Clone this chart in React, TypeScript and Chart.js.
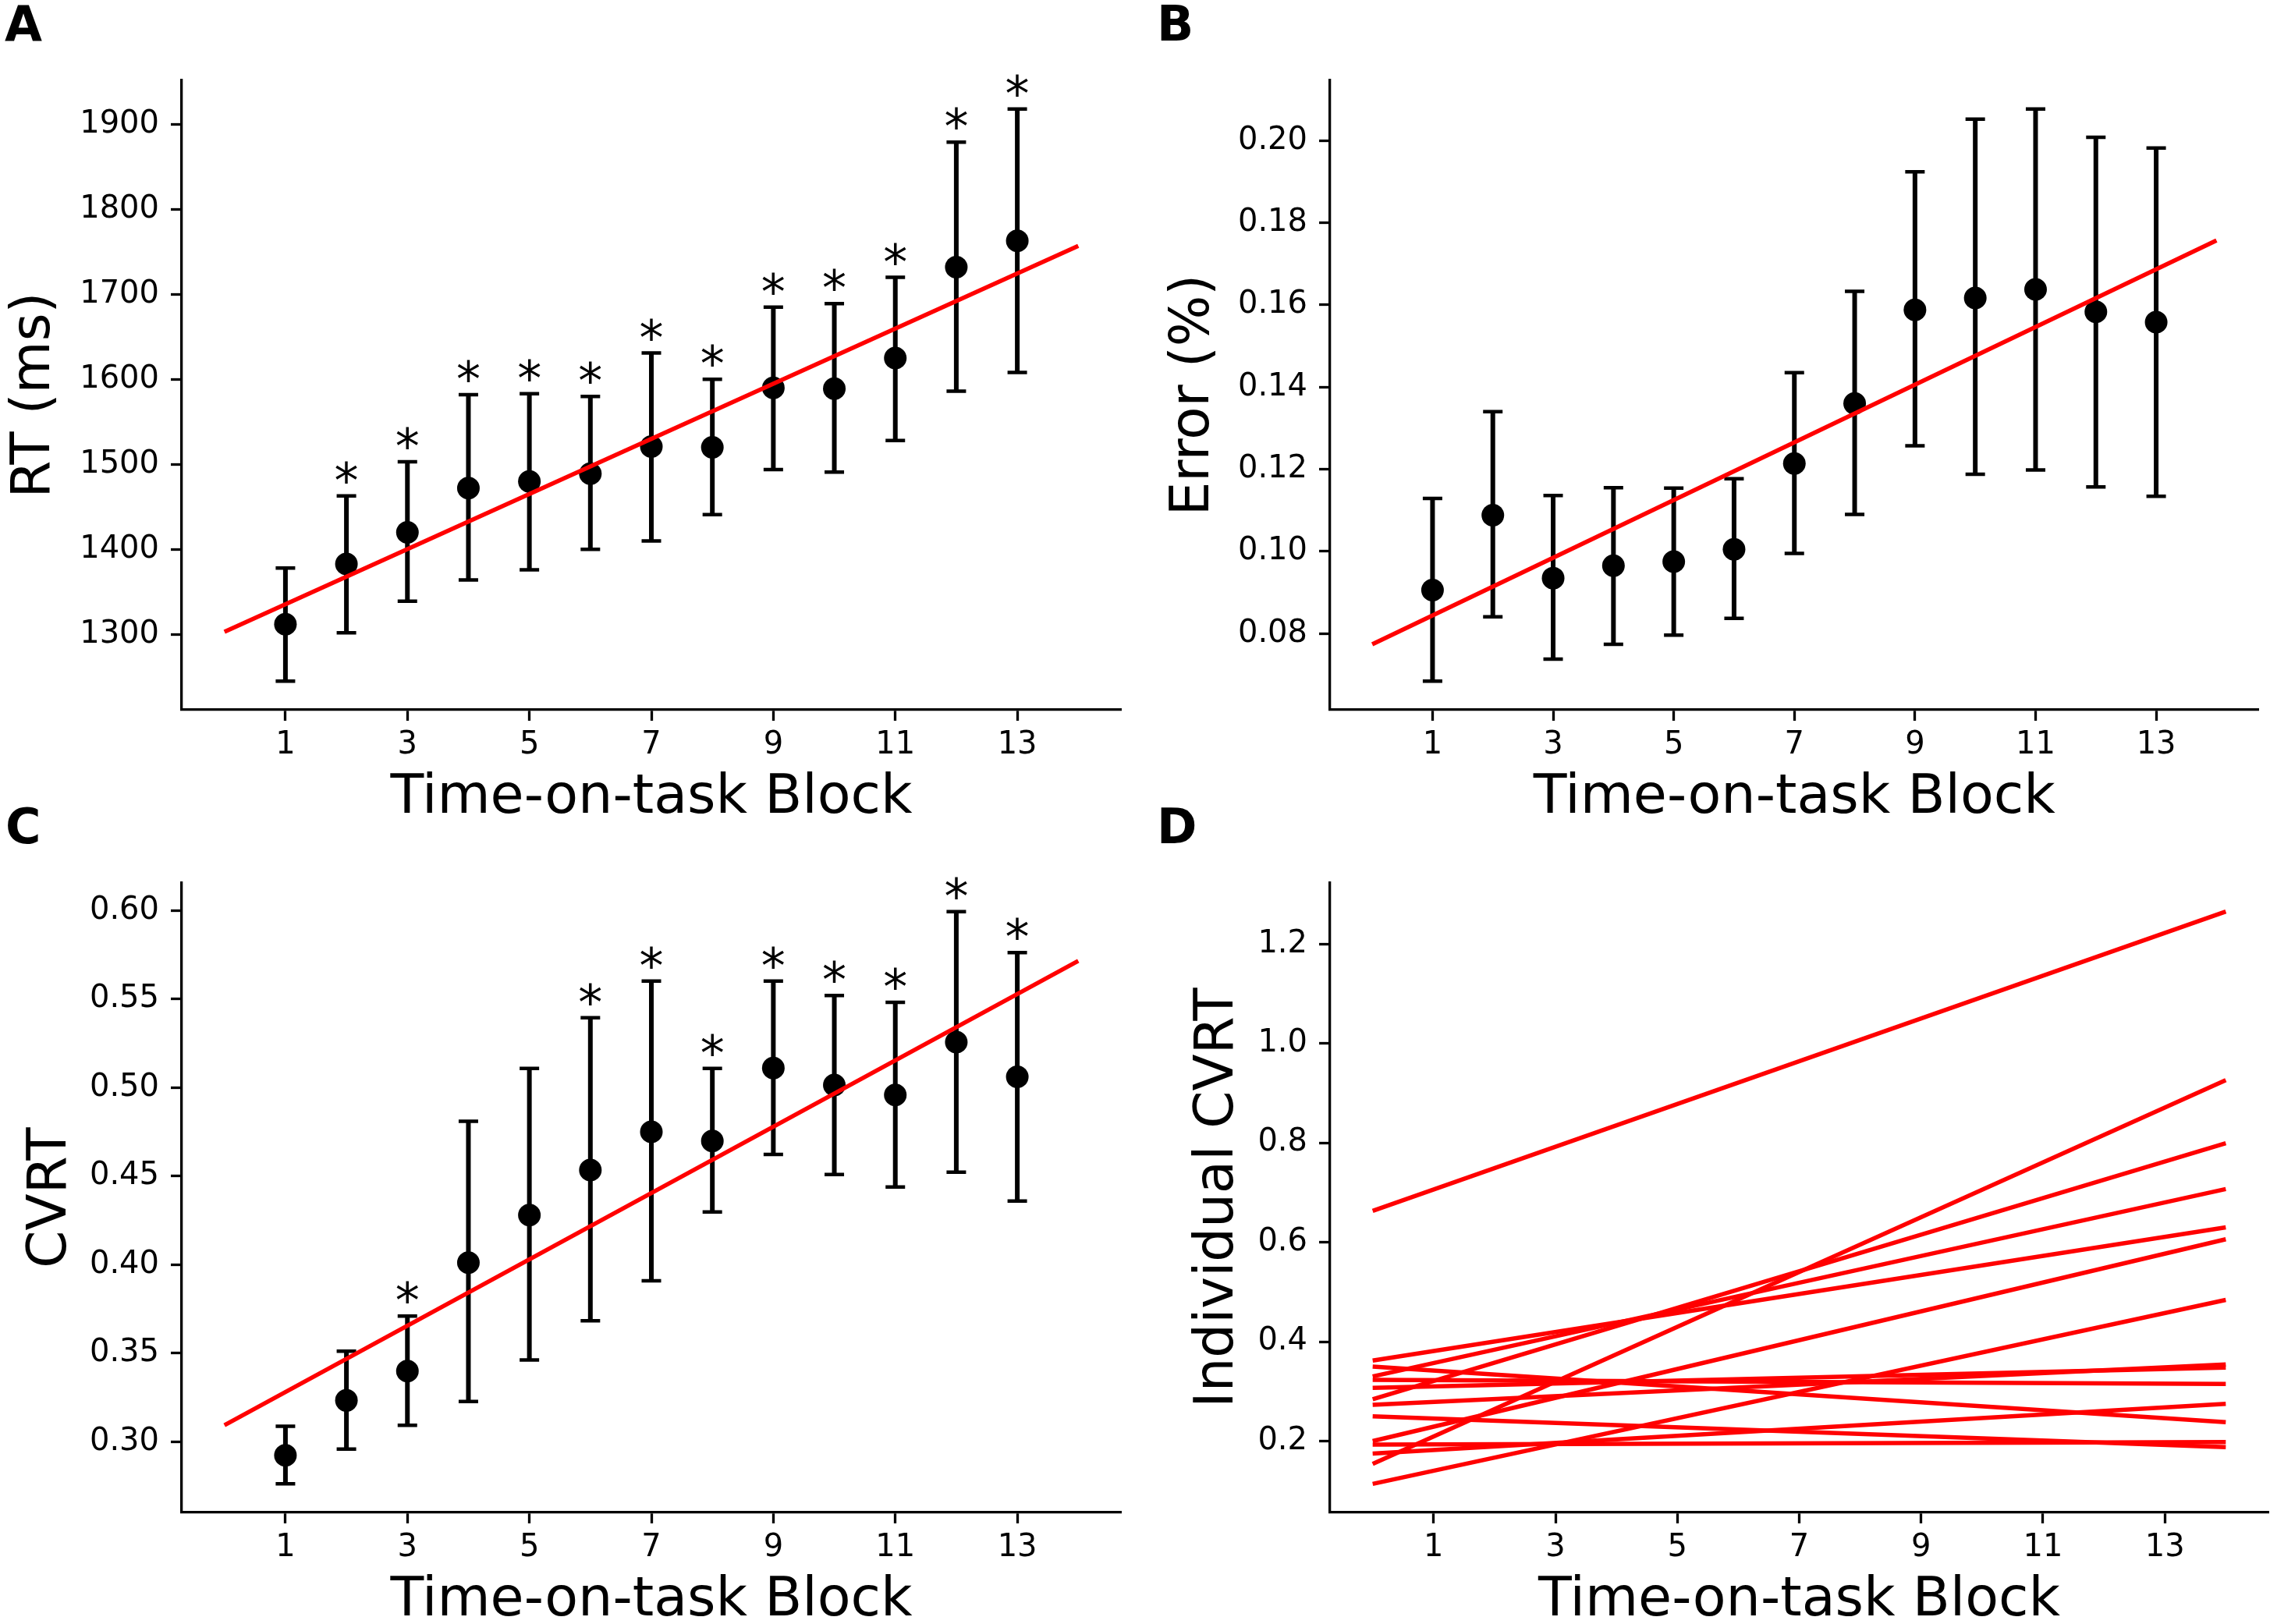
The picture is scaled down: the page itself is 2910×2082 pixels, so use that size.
import React, { useEffect, useRef } from 'react';
import { Chart, registerables } from 'chart.js';

Chart.register(...registerables);
Chart.defaults.font.family = 'DejaVu Sans';
Chart.defaults.color = '#000';

// ---- data ----
const blocks = [1, 2, 3, 4, 5, 6, 7, 8, 9, 10, 11, 12, 13];
const xTicks = [1, 3, 5, 7, 9, 11, 13];
const fitX = [0, 14];

// A: reaction time
const rtMean = [1312, 1383, 1420, 1472, 1480, 1489, 1521, 1520, 1590, 1589, 1625, 1732, 1763];
const rtLow = [1245, 1302, 1339, 1364, 1376, 1400, 1410, 1441, 1494, 1491, 1528, 1586, 1608];
const rtHigh = [1378, 1463, 1503, 1582, 1583, 1580, 1631, 1600, 1685, 1689, 1720, 1879, 1918];
const rtStars = [0, 1, 1, 1, 1, 1, 1, 1, 1, 1, 1, 1, 1];
const rtFit = [1303, 1757];
const rtTicks = [1300, 1400, 1500, 1600, 1700, 1800, 1900];

// B: error
const errMean = [0.0906, 0.1088, 0.0935, 0.0965, 0.0975, 0.1005, 0.1214, 0.136, 0.1588, 0.1617, 0.1638, 0.1583, 0.1558];
const errLow = [0.0684, 0.0841, 0.0738, 0.0774, 0.0796, 0.0837, 0.0995, 0.109, 0.1257, 0.1188, 0.1198, 0.1157, 0.1134];
const errHigh = [0.1129, 0.134, 0.1136, 0.1155, 0.1154, 0.1177, 0.1435, 0.1633, 0.1924, 0.2052, 0.2077, 0.2008, 0.1982];
const errStars = [0, 0, 0, 0, 0, 0, 0, 0, 0, 0, 0, 0, 0];
const errFit = [0.0774, 0.1757];
const errTicks = [0.08, 0.1, 0.12, 0.14, 0.16, 0.18, 0.2];

// C: CVRT
const cvMean = [0.2924, 0.3234, 0.34, 0.4012, 0.4281, 0.4535, 0.4751, 0.4699, 0.5111, 0.5015, 0.4959, 0.5257, 0.5061];
const cvLow = [0.2763, 0.2959, 0.3094, 0.3228, 0.3462, 0.3684, 0.3909, 0.4298, 0.4623, 0.4509, 0.4439, 0.4523, 0.436];
const cvHigh = [0.3088, 0.3512, 0.371, 0.481, 0.5108, 0.5395, 0.5602, 0.5108, 0.5602, 0.552, 0.5482, 0.5994, 0.5763];
const cvStars = [0, 0, 1, 0, 0, 1, 1, 1, 1, 1, 1, 1, 1];
const cvFit = [0.3094, 0.5716];
const cvTicks = [0.3, 0.35, 0.4, 0.45, 0.5, 0.55, 0.6];

// D: individual CVRT fits (value at block 0 and block 14)
const indStart = [0.663, 0.154, 0.284, 0.33, 0.362, 0.2, 0.114, 0.273, 0.307, 0.323, 0.175, 0.35, 0.193, 0.25];
const indEnd = [1.265, 0.926, 0.799, 0.707, 0.63, 0.606, 0.484, 0.354, 0.348, 0.315, 0.275, 0.238, 0.198, 0.188];
const indTicks = [0.2, 0.4, 0.6, 0.8, 1.0, 1.2];

const CANVAS_W = 1455;
const CANVAS_H = 1053;

// error bars and significance stars, placed with the chart's own scales
const errorBarPlugin = {
  id: 'errorBars',
  beforeDatasetsDraw(chart: any, _args: any, opts: any) {
    if (!opts || !opts.low) return;
    const { ctx } = chart;
    const xs = chart.scales.x;
    const ys = chart.scales.y;
    ctx.save();
    ctx.strokeStyle = '#000';
    opts.low.forEach((lo: number, i: number) => {
      const px = xs.getPixelForValue(opts.x[i]);
      const pLo = ys.getPixelForValue(lo);
      const pHi = ys.getPixelForValue(opts.high[i]);
      ctx.lineWidth = 6;
      ctx.beginPath();
      ctx.moveTo(px, pLo);
      ctx.lineTo(px, pHi);
      ctx.stroke();
      ctx.lineWidth = 4.5;
      ctx.beginPath();
      ctx.moveTo(px - 12.5, pLo);
      ctx.lineTo(px + 12.5, pLo);
      ctx.moveTo(px - 12.5, pHi);
      ctx.lineTo(px + 12.5, pHi);
      ctx.stroke();
    });
    ctx.restore();
  },
  afterDatasetsDraw(chart: any, _args: any, opts: any) {
    if (!opts || !opts.stars) return;
    const { ctx } = chart;
    const xs = chart.scales.x;
    const ys = chart.scales.y;
    ctx.save();
    ctx.fillStyle = '#000';
    ctx.font = '62px "DejaVu Sans"';
    ctx.textAlign = 'center';
    ctx.textBaseline = 'alphabetic';
    opts.stars.forEach((s: number, i: number) => {
      if (!s) return;
      const px = xs.getPixelForValue(opts.x[i]);
      const pHi = ys.getPixelForValue(opts.high[i]);
      ctx.fillText('*', px, pHi + 2);
    });
    ctx.restore();
  },
};

const panelLabelPlugin = {
  id: 'panelLabel',
  afterDraw(chart: any, _args: any, opts: any) {
    if (!opts || !opts.text) return;
    const { ctx } = chart;
    ctx.save();
    ctx.fillStyle = '#000';
    ctx.font = 'bold 62px "DejaVu Sans"';
    ctx.textAlign = 'left';
    ctx.textBaseline = 'alphabetic';
    ctx.fillText(opts.text, opts.x, opts.y);
    ctx.restore();
  },
};

function paddedRange(lo: number[], hi: number[]) {
  const mn = Math.min(...lo);
  const mx = Math.max(...hi);
  const m = (mx - mn) * 0.05;
  return [mn - m, mx + m];
}

interface PanelSpec {
  letter: string;
  letterX: number;
  left: number;
  right: number;
  yTitle: string;
  yTitlePad: number;
  yTicks: number[];
  decimals: number;
  yMin: number;
  yMax: number;
  datasets: any[];
  errors?: { x: number[]; low: number[]; high: number[]; stars: number[] };
}

const Panel: React.FC<{ spec: PanelSpec; top: number; leftPos: number }> = ({ spec, top, leftPos }) => {
  const canvasRef = useRef<HTMLCanvasElement>(null);
  const chartRef = useRef<Chart | null>(null);

  useEffect(() => {
    if (!canvasRef.current) return;
    const ctx = canvasRef.current.getContext('2d');
    if (!ctx) return;
    if (chartRef.current) chartRef.current.destroy();

    chartRef.current = new Chart(ctx, {
      type: 'scatter',
      data: { datasets: spec.datasets },
      plugins: [errorBarPlugin, panelLabelPlugin],
      options: {
        responsive: false,
        animation: false,
        devicePixelRatio: 1,
        events: [],
        layout: { padding: { left: 0, top: 103, right: CANVAS_W - spec.right, bottom: 0 } },
        scales: {
          x: {
            type: 'linear',
            min: -0.7,
            max: 14.7,
            afterBuildTicks: (s: any) => {
              s.ticks = xTicks.map((v) => ({ value: v }));
            },
            afterFit: (s: any) => {
              s.height = CANVAS_H - 910;
            },
            ticks: {
              font: { size: 40 },
              color: '#000',
              padding: 8,
              maxRotation: 0,
              autoSkip: false,
              callback: (v: any) => String(v),
            },
            grid: { drawOnChartArea: false, tickLength: 14, tickWidth: 3.3, color: '#000' },
            border: { color: '#000', width: 3.3 },
            title: {
              display: true,
              text: 'Time-on-task Block',
              color: '#000',
              font: { size: 70, lineHeight: 0.8 },
              padding: { top: 0, bottom: 1 },
            },
          },
          y: {
            type: 'linear',
            min: spec.yMin,
            max: spec.yMax,
            afterBuildTicks: (s: any) => {
              s.ticks = spec.yTicks.map((v) => ({ value: v }));
            },
            afterFit: (s: any) => {
              s.width = spec.left;
            },
            ticks: {
              font: { size: 40 },
              color: '#000',
              padding: 15,
              autoSkip: false,
              callback: (v: any) => Number(v).toFixed(spec.decimals),
            },
            grid: { drawOnChartArea: false, tickLength: 14, tickWidth: 3.3, color: '#000' },
            border: { color: '#000', width: 3.3 },
            title: {
              display: true,
              text: spec.yTitle,
              color: '#000',
              font: { size: 69, lineHeight: 1 },
              padding: { top: spec.yTitlePad, bottom: 0 },
            },
          },
        },
        plugins: {
          legend: { display: false },
          tooltip: { enabled: false },
          errorBars: spec.errors || {},
          panelLabel: { text: spec.letter, x: spec.letterX, y: 52 },
        } as any,
      },
    });

    return () => {
      if (chartRef.current) {
        chartRef.current.destroy();
        chartRef.current = null;
      }
    };
  }, [spec]);

  return (
    <canvas
      ref={canvasRef}
      width={CANVAS_W}
      height={CANVAS_H}
      style={{ position: 'absolute', left: leftPos, top, width: CANVAS_W, height: CANVAS_H }}
    />
  );
};

const meanSet = (vals: number[]) => ({
  data: blocks.map((b, i) => ({ x: b, y: vals[i] })),
  pointRadius: 14.5,
  pointBackgroundColor: '#000',
  pointBorderWidth: 0,
  showLine: false,
});

const fitSet = (vals: number[]) => ({
  data: fitX.map((x, i) => ({ x, y: vals[i] })),
  borderColor: '#ff0000',
  borderWidth: 5.5,
  pointRadius: 0,
  showLine: true,
});

const [rtMin, rtMax] = paddedRange(rtLow, rtHigh);
const [errMin, errMax] = paddedRange(errLow, errHigh);
const [cvMin, cvMax] = paddedRange(cvLow, cvHigh);
const [indMin, indMax] = paddedRange([...indStart, ...indEnd], [...indStart, ...indEnd]);

const specA: PanelSpec = {
  letter: 'A',
  letterX: 6,
  left: 233,
  right: 1437,
  yTitle: 'RT (ms)',
  yTitlePad: 11,
  yTicks: rtTicks,
  decimals: 0,
  yMin: rtMin,
  yMax: rtMax,
  datasets: [fitSet(rtFit), meanSet(rtMean)],
  errors: { x: blocks, low: rtLow, high: rtHigh, stars: rtStars },
};

const specB: PanelSpec = {
  letter: 'B',
  letterX: 28,
  left: 250,
  right: 1453,
  yTitle: 'Error (%)',
  yTitlePad: 42,
  yTicks: errTicks,
  decimals: 2,
  yMin: errMin,
  yMax: errMax,
  datasets: [fitSet(errFit), meanSet(errMean)],
  errors: { x: blocks, low: errLow, high: errHigh, stars: errStars },
};

const specC: PanelSpec = {
  letter: 'C',
  letterX: 7,
  left: 233,
  right: 1437,
  yTitle: 'CVRT',
  yTitlePad: 32,
  yTicks: cvTicks,
  decimals: 2,
  yMin: cvMin,
  yMax: cvMax,
  datasets: [fitSet(cvFit), meanSet(cvMean)],
  errors: { x: blocks, low: cvLow, high: cvHigh, stars: cvStars },
};

const specD: PanelSpec = {
  letter: 'D',
  letterX: 28,
  left: 250,
  right: 1453,
  yTitle: 'Individual CVRT',
  yTitlePad: 73,
  yTicks: indTicks,
  decimals: 1,
  yMin: indMin,
  yMax: indMax,
  datasets: indStart.map((s, i) => fitSet([s, indEnd[i]])),
};

export default function App() {
  return (
    <div style={{ position: 'absolute', left: 0, top: 0, width: 2910, height: 2082, background: '#fff', overflow: 'hidden' }}>
      <Panel spec={specA} top={0} leftPos={0} />
      <Panel spec={specB} top={0} leftPos={1455} />
      <Panel spec={specC} top={1029} leftPos={0} />
      <Panel spec={specD} top={1029} leftPos={1455} />
    </div>
  );
}
